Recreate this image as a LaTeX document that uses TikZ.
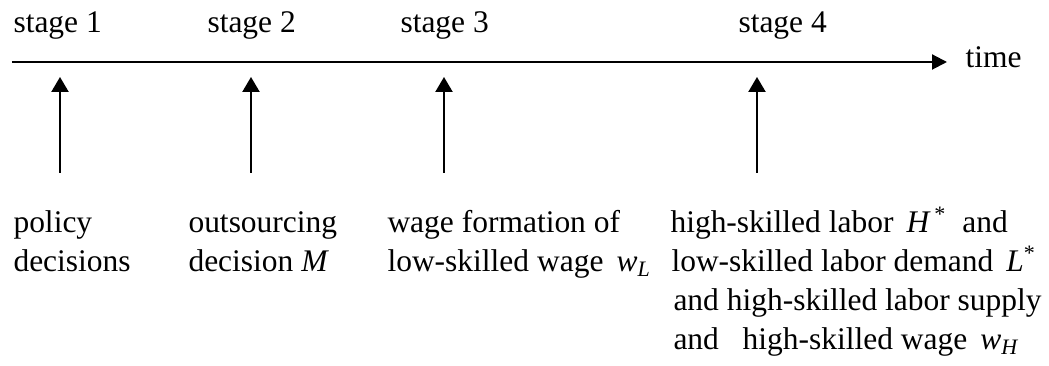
\documentclass[tikz,border=0pt]{standalone}
\usepackage{fontspec}
\setmainfont{Liberation Serif}
\usetikzlibrary{arrows.meta}

\tikzset{
  timeline/.style={line width=0.8pt, -{Triangle[length=5.8pt, width=5.8pt]}},
  stagearrow/.style={line width=0.8pt, -{Triangle[length=5.8pt, width=6.6pt]}},
  label/.style={anchor=base west, inner sep=0pt, font=\fontsize{12.2pt}{14pt}\selectfont}
}

\begin{document}
\begin{tikzpicture}[x=0.3875pt,y=0.3875pt,yscale=-1,xscale=1]
		% Fix the frame of the picture
		\useasboundingbox (0,0) rectangle (1049,366);

		% Draw the time axis and its label
		\coordinate (axisstart) at (12,62);
		\coordinate (axisend) at (947,62);
		\draw[timeline] (axisstart) -- (axisend);
		\node[label] (time) at (965,68) {time};

		% The stage names above the axis
		\node[label] (stageone) at (13,33) {stage 1};
		\node[label] (stagetwo) at (207,33) {stage 2};
		\node[label] (stagethree) at (400,33) {stage 3};
		\node[label] (stagefour) at (738,33) {stage 4};

		% The arrows pointing up to the axis
		\coordinate (tailone) at (60,173);
		\coordinate (tipone) at (60,77);
		\draw[stagearrow] (tailone) -- (tipone);
		\coordinate (tailtwo) at (251,173);
		\coordinate (tiptwo) at (251,77);
		\draw[stagearrow] (tailtwo) -- (tiptwo);
		\coordinate (tailthree) at (444,173);
		\coordinate (tipthree) at (444,77);
		\draw[stagearrow] (tailthree) -- (tipthree);
		\coordinate (tailfour) at (757,173);
		\coordinate (tipfour) at (757,77);
		\draw[stagearrow] (tailfour) -- (tipfour);

		% Text below stage 1
		\node[label] (policy) at (13,233) {policy};
		\node[label] (decisions) at (13,272) {decisions};

		% Text below stage 2
		\node[label] (outsourcing) at (188,233) {outsourcing};
		\node[label] (decision) at (188,272) {decision \textit{M}};

		% Text below stage 3
		\node[label] (formation) at (387,233) {wage formation of};
		\node[label] (lowwage) at (387,272) {low-skilled wage \,\textit{w}\textsubscript{\textit{L}}};

		% Text below stage 4
		\node[label] (highlabor) at (670,233) {high-skilled labor \,\textit{H}\textsuperscript{\,*}\ \ and};
		\node[label] (lowdemand) at (671,272) {low-skilled labor demand \,\textit{L}\textsuperscript{*}};
		\node[label] (highsupply) at (673,311) {and high-skilled labor supply};
		\node[label] (highwage) at (673,350) {and \ \ high-skilled wage \,\textit{w}\textsubscript{\textit{H}}};
	\end{tikzpicture}
\end{document}
